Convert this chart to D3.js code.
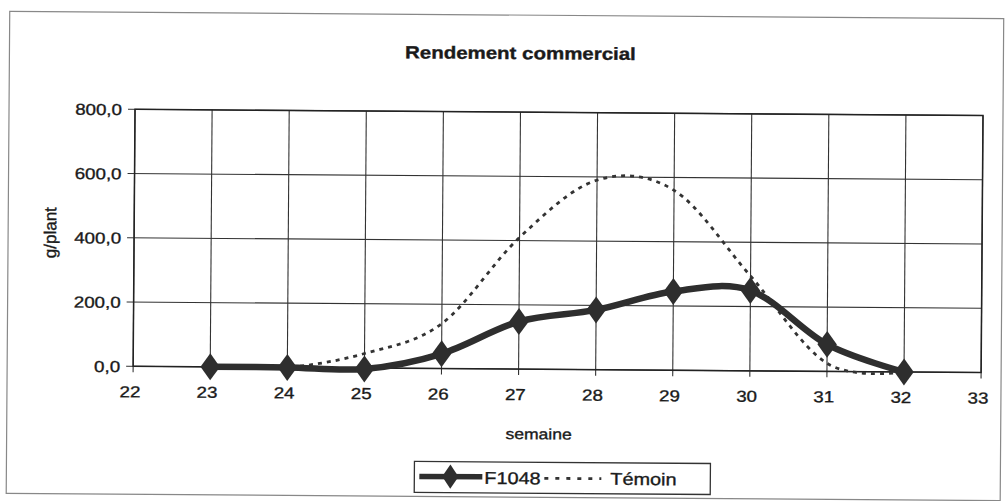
<!DOCTYPE html>
<html>
<head>
<meta charset="utf-8">
<script src="https://cdnjs.cloudflare.com/ajax/libs/d3/7.8.5/d3.min.js"></script>
<style>
  body { margin: 0; background: #fff; }
  text { font-family: "Liberation Sans", Arial, sans-serif; fill: #1a1a1a; stroke: #1a1a1a; stroke-width: 0.35px; }
</style>
</head>
<body>
<div id="chart"></div>
<script>
// data
var weeks = [23, 24, 25, 26, 27, 28, 29, 30, 31, 32];
var f1048 = [0, 0, -3, 46, 148, 186, 245, 250, 84, 0];
var temoin = [0, 0, 45, 140, 410, 590, 560, 295, 25, 0];
var xTicks = [22, 23, 24, 25, 26, 27, 28, 29, 30, 31, 32, 33];
var yTicks = [0, 200, 400, 600, 800];

var W = 1008, H = 501;
var plotL = 134, plotR = 982, plotT = 112, plotB = 369;
var sx = 1.17; // scan is a bit stretched horizontally

var svg = d3.select("#chart").append("svg")
    .attr("width", W).attr("height", H);

// whole scan is tilted a little
var g = svg.append("g")
    .attr("transform", "rotate(0.42," + (W / 2) + "," + (H / 2) + ")");

g.append("rect")
    .attr("x", 8).attr("y", 15).attr("width", 994).attr("height", 482)
    .attr("fill", "none").attr("stroke", "#888").attr("stroke-width", 1.2);

var x = d3.scaleLinear().domain([22, 33]).range([plotL, plotR]);
var y = d3.scaleLinear().domain([0, 800]).range([plotB, plotT]);

function label(txt, px, py, size, anchor, weight) {
  return g.append("text")
      .attr("transform", "translate(" + px + "," + py + ") scale(" + sx + ",1)")
      .attr("text-anchor", anchor)
      .attr("font-size", size)
      .attr("font-weight", weight || "normal")
      .text(txt);
}

// title
label("Rendement commercial", 519, 59, 17.5, "middle", "bold");

// grid
g.selectAll(".hgrid").data(yTicks).enter().append("line")
    .attr("x1", plotL - 7).attr("x2", plotR)
    .attr("y1", function(d) { return y(d); }).attr("y2", function(d) { return y(d); })
    .attr("stroke", "#333").attr("stroke-width", 1.1);

g.selectAll(".vgrid").data(xTicks).enter().append("line")
    .attr("x1", function(d) { return x(d); }).attr("x2", function(d) { return x(d); })
    .attr("y1", plotT).attr("y2", plotB + 6)
    .attr("stroke", "#333").attr("stroke-width", 1.1);

g.append("rect")
    .attr("x", plotL).attr("y", plotT).attr("width", plotR - plotL).attr("height", plotB - plotT)
    .attr("fill", "none").attr("stroke", "#222").attr("stroke-width", 1.5);

// tick labels
var fmt = function(d) { return d3.format(".1f")(d).replace(".", ","); };
yTicks.forEach(function(d) { label(fmt(d), 121, y(d) + 6, 16, "end"); });
xTicks.forEach(function(d) { label(d, x(d) - 3, 400, 16, "middle"); });

// axis titles
label("semaine", 540, 439, 15, "middle");
g.append("text")
    .attr("transform", "translate(56,236) rotate(-90)")
    .attr("text-anchor", "middle")
    .attr("font-size", 17)
    .text("g/plant");

// series
var smooth = d3.line()
    .x(function(d, i) { return x(weeks[i]); })
    .y(function(d) { return y(d); })
    .curve(d3.curveCatmullRom.alpha(0));

g.append("path")
    .attr("d", smooth(temoin))
    .attr("fill", "none").attr("stroke", "#333")
    .attr("stroke-width", 2.8).attr("stroke-dasharray", "4,5");

g.append("path")
    .attr("d", smooth(f1048))
    .attr("fill", "none").attr("stroke", "#2e2e2e")
    .attr("stroke-width", 6.5).attr("stroke-linejoin", "round");

var diamond = d3.symbol().type(d3.symbolDiamond).size(210);
g.selectAll(".pt").data(f1048).enter().append("path")
    .attr("d", diamond)
    .attr("transform", function(d, i) { return "translate(" + x(weeks[i]) + "," + y(d) + ") scale(1.25,1)"; })
    .attr("fill", "#2e2e2e");

// legend
var lg = g.append("g");
lg.append("rect")
    .attr("x", 416).attr("y", 462).attr("width", 296).attr("height", 31)
    .attr("fill", "#fff").attr("stroke", "#333").attr("stroke-width", 1.3);
lg.append("line")
    .attr("x1", 421).attr("x2", 484).attr("y1", 477).attr("y2", 477)
    .attr("stroke", "#2e2e2e").attr("stroke-width", 5.5);
lg.append("path")
    .attr("d", diamond)
    .attr("transform", "translate(452,477) scale(1.05,0.9)")
    .attr("fill", "#2e2e2e");
label("F1048", 486, 484, 17, "start");
lg.append("line")
    .attr("x1", 546).attr("x2", 603).attr("y1", 478).attr("y2", 478)
    .attr("stroke", "#333").attr("stroke-width", 2.8).attr("stroke-dasharray", "4,7");
label("Témoin", 612, 484, 17, "start");
</script>
</body>
</html>
